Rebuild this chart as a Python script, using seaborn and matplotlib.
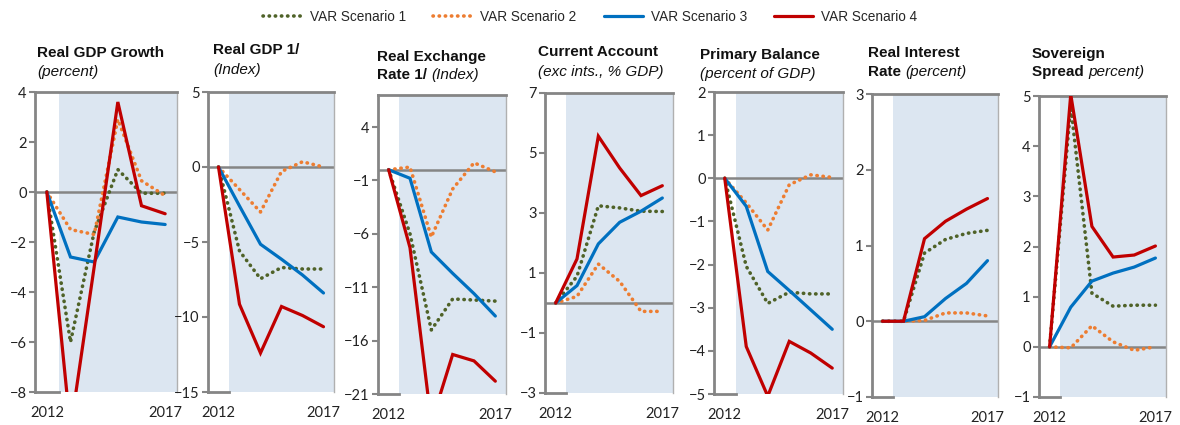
import matplotlib
matplotlib.use("Agg")
import matplotlib.pyplot as plt
import seaborn as sns
import pandas as pd
from matplotlib.lines import Line2D

# years on the x axis
years = [2012, 2013, 2014, 2015, 2016, 2017]
scenarios = ["VAR Scenario 1", "VAR Scenario 2", "VAR Scenario 3", "VAR Scenario 4"]

# Real GDP growth (percent)
gdp_growth_s1 = [0, -6.0, -1.6, 0.9, -0.05, -0.05]
gdp_growth_s2 = [0, -1.5, -1.7, 2.9, 0.45, -0.15]
gdp_growth_s3 = [0, -2.6, -2.8, -1.0, -1.2, -1.3]
gdp_growth_s4 = [0, -9.5, -3.0, 3.6, -0.55, -0.87]

# Real GDP index
gdp_index_s1 = [0, -5.6, -7.45, -6.7, -6.8, -6.8]
gdp_index_s2 = [0, -1.5, -3.0, -0.3, 0.35, 0.0]
gdp_index_s3 = [0, -2.6, -5.15, -6.15, -7.2, -8.4]
gdp_index_s4 = [0, -9.15, -12.4, -9.3, -9.9, -10.65]

# Real exchange rate index
rer_s1 = [0, -6.0, -15.0, -12.1, -12.2, -12.3]
rer_s2 = [0, 0.25, -6.3, -1.8, 0.65, -0.2]
rer_s3 = [0, -0.8, -7.7, -9.7, -11.6, -13.7]
rer_s4 = [0, -7.3, -23.7, -17.3, -17.9, -19.8]

# Current account (exc ints., % GDP)
ca_s1 = [0, 0.89, 3.24, 3.17, 3.06, 3.05]
ca_s2 = [0, 0.22, 1.3, 0.72, -0.28, -0.28]
ca_s3 = [0, 0.58, 1.97, 2.69, 3.06, 3.5]
ca_s4 = [0, 1.47, 5.56, 4.5, 3.58, 3.91]

# Primary balance (percent of GDP)
pb_s1 = [0, -2.04, -2.9, -2.64, -2.68, -2.68]
pb_s2 = [0, -0.57, -1.2, -0.15, 0.08, 0.02]
pb_s3 = [0, -0.65, -2.16, -2.6, -3.05, -3.5]
pb_s4 = [0, -3.9, -5.05, -3.78, -4.05, -4.4]

# Real interest rate (percent)
rir_s1 = [0, 0, 0.9, 1.08, 1.16, 1.2]
rir_s2 = [0, 0, 0.01, 0.11, 0.11, 0.07]
rir_s3 = [0, 0, 0.06, 0.3, 0.5, 0.8]
rir_s4 = [0, 0, 1.09, 1.32, 1.48, 1.62]

# Sovereign spread (percent)
spread_s1 = [0, 4.8, 1.07, 0.81, 0.83, 0.83]
spread_s2 = [0, -0.02, 0.42, 0.1, -0.07, 0.0]
spread_s3 = [0, 0.79, 1.31, 1.47, 1.59, 1.77]
spread_s4 = [0, 5.03, 2.4, 1.79, 1.83, 2.01]

panel_series = [
    [gdp_growth_s1, gdp_growth_s2, gdp_growth_s3, gdp_growth_s4],
    [gdp_index_s1, gdp_index_s2, gdp_index_s3, gdp_index_s4],
    [rer_s1, rer_s2, rer_s3, rer_s4],
    [ca_s1, ca_s2, ca_s3, ca_s4],
    [pb_s1, pb_s2, pb_s3, pb_s4],
    [rir_s1, rir_s2, rir_s3, rir_s4],
    [spread_s1, spread_s2, spread_s3, spread_s4],
]
y_limits = [(-8, 4), (-15, 5), (-21, 7), (-3, 7), (-5, 2), (-1, 3), (-1, 5)]
y_ticks = [
    [-8, -6, -4, -2, 0, 2, 4],
    [-15, -10, -5, 0, 5],
    [-21, -16, -11, -6, -1, 4],
    [-3, -1, 1, 3, 5, 7],
    [-5, -4, -3, -2, -1, 0, 1, 2],
    [-1, 0, 1, 2, 3],
    [-1, 0, 1, 2, 3, 4, 5],
]
titles = [
    [[("Real GDP Growth", "b")], [("(percent)", "i")]],
    [[("Real GDP 1/", "b")], [("(Index)", "i")]],
    [[("Real Exchange", "b")], [("Rate 1/ ", "b"), ("(Index)", "i")]],
    [[("Current Account", "b")], [("(exc ints., % GDP)", "i")]],
    [[("Primary Balance", "b")], [("(percent of GDP)", "i")]],
    [[("Real Interest", "b")], [("Rate ", "b"), ("(percent)", "i")]],
    [[("Sovereign", "b")], [("Spread ", "b"), ("percent)", "i")]],
]

# pixel boxes (left, right, top, bottom) and title anchors (x, y1, y2)
boxes = [(35, 177, 92, 392), (208, 334, 92, 392), (378, 506, 95, 394),
         (545, 673, 93, 393), (714, 843, 92, 394), (872, 998, 94, 397),
         (1039, 1166, 96, 397)]
title_pos = [(37, 53, 72), (213, 50, 70), (377, 57, 75), (538, 52, 72),
             (700, 55, 74), (868, 53, 72), (1032, 54, 72)]

colors = ["#4F6228", "#ED7D31", "#0070C0", "#C00000"]
styles = [(0, (0.1, 1.6)), (0, (0.1, 1.6)), "-", "-"]
widths = [2.6, 2.6, 2.3, 2.3]
grey = "#858585"
shade = "#DCE6F1"

sns.set_style("white")
plt.rcParams["font.family"] = ["Lato", "DejaVu Sans"]
narrow = ["Liberation Sans Narrow", "Liberation Sans", "DejaVu Sans"]

W, H = 1180, 425
fig = plt.figure(figsize=(W / 100, H / 100), dpi=100)

for k, series in enumerate(panel_series):
    l, r, t, b = boxes[k]
    ax = fig.add_axes([l / W, 1 - b / H, (r - l) / W, (b - t) / H])
    ax.axvspan(2012.5, 2017.5, color=shade, lw=0, zorder=0)
    ax.axhline(0, color=grey, lw=1.8, zorder=1)
    for s, vals in enumerate(series):
        df = pd.DataFrame({"year": years, "value": vals})
        sns.lineplot(data=df, x="year", y="value", ax=ax, color=colors[s],
                     linestyle=styles[s], linewidth=widths[s],
                     dash_capstyle="round", solid_joinstyle="miter", zorder=3 + s)
    ax.set_xlim(2011.5, 2017.5)
    ax.set_ylim(*y_limits[k])
    ax.set_yticks(y_ticks[k])
    ax.set_xticks([2012, 2017])
    ax.set_xlabel("")
    ax.set_ylabel("")
    ax.tick_params(axis="y", left=True, length=4, width=1.5, color=grey,
                   labelsize=10.5, pad=2, labelcolor="#222222")
    ax.tick_params(axis="x", length=0, labelsize=10.5, pad=10, labelcolor="#222222")
    for side in ["left", "top", "bottom"]:
        ax.spines[side].set_color(grey)
        ax.spines[side].set_linewidth(2)
    ax.spines["bottom"].set_bounds(2011.5, 2012.5)
    ax.spines["right"].set_color("#B0B0B0")
    ax.spines["right"].set_linewidth(1)
    ax.grid(False)

# titles with mixed bold / italic runs
renderer = fig.canvas.get_renderer()
for k, lines in enumerate(titles):
    x0, y1, y2 = title_pos[k]
    for line, ypix in zip(lines, [y1, y2]):
        x = x0
        for txt, st in line:
            tobj = fig.text(x / W, 1 - ypix / H, txt, family=narrow, fontsize=11,
                            fontweight="bold" if st == "b" else "normal",
                            fontstyle="italic" if st == "i" else "normal",
                            va="center", ha="left", color="#111111")
            ext = tobj.get_window_extent(renderer)
            x += ext.width

handles = [Line2D([], [], color=colors[i], linestyle=styles[i], linewidth=widths[i],
                  dash_capstyle="round") for i in range(4)]
fig.legend(handles, scenarios, loc="center", bbox_to_anchor=(0.5, 1 - 17 / H), ncol=4,
           frameon=False, handlelength=2.9, columnspacing=2.0, handletextpad=0.55,
           prop={"family": narrow, "size": 9.8})

fig.savefig("out.png", dpi=100)
